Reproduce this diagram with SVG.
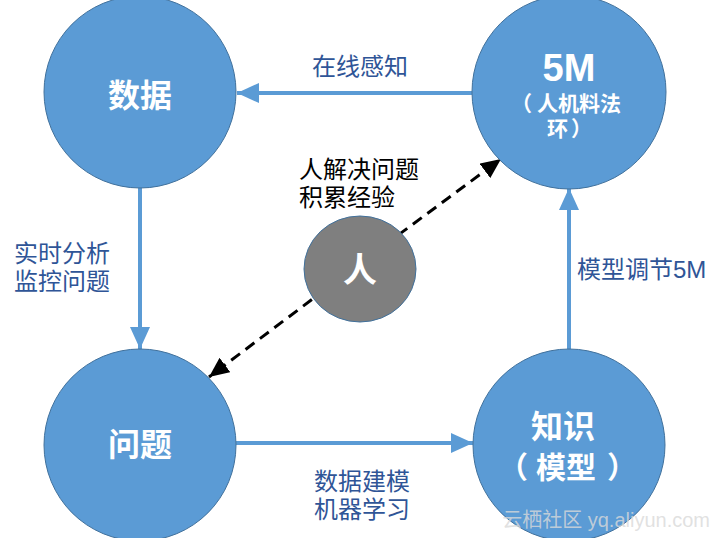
<svg xmlns="http://www.w3.org/2000/svg" width="722" height="538" viewBox="0 0 722 538">
<style>
.node{fill:#5b9bd5;stroke:#41719c;stroke-width:1}
.t{font-family:"Liberation Sans","Noto Sans CJK SC",sans-serif}
.w{fill:#fff;font-weight:bold;text-anchor:middle}
.ws{fill:#fff;font-weight:bold;text-anchor:start}
.we{fill:#fff;font-weight:bold;text-anchor:end}
.lbl{fill:#2f5597;font-size:24px}
.blk{fill:#000;font-size:24px}
.conn{stroke:#5b9bd5;stroke-width:4;fill:none}
.dash{stroke:#000;stroke-width:3;fill:none;stroke-dasharray:11 7}
</style>
<defs>
<marker id="ab" markerUnits="userSpaceOnUse" markerWidth="24" markerHeight="20" refX="22" refY="10" orient="auto">
<path d="M0,0 L22,10 L0,20 z" fill="#5b9bd5"/>
</marker>
<marker id="ak" markerUnits="userSpaceOnUse" markerWidth="22" markerHeight="18" refX="20" refY="9" orient="auto">
<path d="M0,0 L20,9 L0,18 z" fill="#000"/>
</marker>
</defs>
<rect width="722" height="538" fill="#fff"/>
<g id="connectors">
<line class="conn" x1="472" y1="93" x2="237" y2="93" marker-end="url(#ab)"/>
<line class="conn" x1="140" y1="187" x2="140" y2="349" marker-end="url(#ab)"/>
<line class="conn" x1="236" y1="443" x2="473" y2="443" marker-end="url(#ab)"/>
<line class="conn" x1="569" y1="349" x2="569" y2="188" marker-end="url(#ab)"/>
<line class="dash" x1="355" y1="267" x2="501" y2="159" marker-end="url(#ak)"/>
<line class="dash" x1="355" y1="267" x2="209" y2="377" marker-end="url(#ak)"/>
</g>
<g id="node-shuju">
<circle class="node" cx="140" cy="92" r="96"/>
<text class="t w" x="140" y="107" font-size="32">数据</text>
</g>
<g id="node-5m">
<circle class="node" cx="569" cy="92" r="97"/>
<text class="t w" x="569" y="81" font-size="38">5M</text>
<text class="t we" x="532" y="111" font-size="21">（</text>
<text class="t ws" x="537" y="111" font-size="21">人机料法</text>
<text class="t ws" x="547" y="136" font-size="21">环</text>
<text class="t ws" x="571" y="136" font-size="21">）</text>
</g>
<g id="node-wenti">
<circle class="node" cx="140" cy="445" r="96"/>
<text class="t w" x="140" y="456" font-size="32">问题</text>
</g>
<g id="node-zhishi">
<circle class="node" cx="569" cy="445" r="96"/>
<text class="t w" x="563" y="438" font-size="32">知识</text>
<text class="t we" x="528" y="478" font-size="30">（</text>
<text class="t ws" x="536" y="478" font-size="30">模型</text>
<text class="t ws" x="607" y="478" font-size="30">）</text>
</g>
<g id="node-ren">
<ellipse cx="360" cy="269" rx="56" ry="53" fill="#7f7f7f" stroke="#41719c" stroke-width="1"/>
<text class="t w" x="360" y="282" font-size="34">人</text>
</g>
<g id="labels">
<text class="t lbl" x="312" y="75">在线感知</text>
<text class="t lbl" x="14" y="262">实时分析</text>
<text class="t lbl" x="14" y="290">监控问题</text>
<text class="t lbl" x="314" y="490">数据建模</text>
<text class="t lbl" x="314" y="518">机器学习</text>
<text class="t lbl" x="577" y="278">模型调节5M</text>
<text class="t blk" x="299" y="178">人解决问题</text>
<text class="t blk" x="299" y="206">积累经验</text>
</g>
<text class="t" x="710" y="527" font-size="20" fill="#d9d9d9" fill-opacity="0.8" text-anchor="end">云栖社区 yq.aliyun.com</text>
</svg>
